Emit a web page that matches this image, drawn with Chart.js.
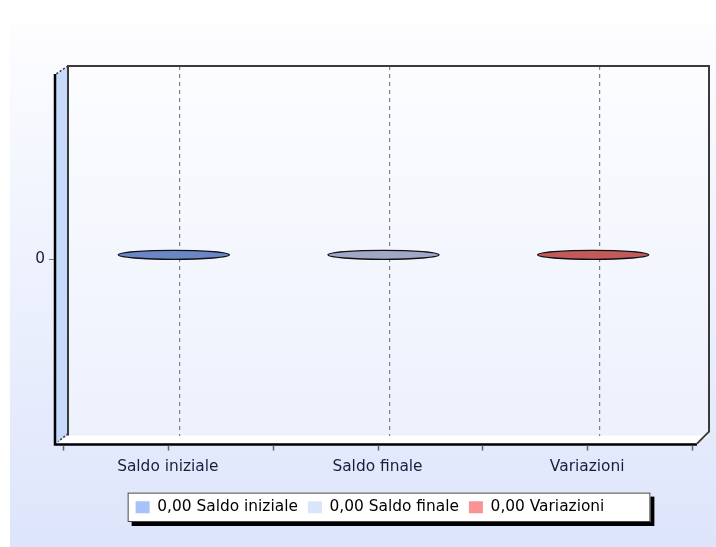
<!DOCTYPE html>
<html>
<head>
<meta charset="utf-8">
<script src="https://cdn.jsdelivr.net/npm/chart.js@4/dist/chart.umd.min.js"></script>
<style>
  html, body { margin: 0; padding: 0; background: #fff; }
  canvas { display: block; }
</style>
</head>
<body>
<canvas id="c" width="716" height="547"></canvas>
<script>
// Account movements summary
const categories = ['Saldo iniziale', 'Saldo finale', 'Variazioni'];
const values = [0, 0, 0];
const yTicks = [0];

const discColors = ['#6a86c6', '#a0a8c6', '#c25a5a'];
const legendColors = ['#a6c2f8', '#dae5fc', '#f89494'];

// Offset between the back wall and the front edge of the pseudo-3D frame
const DEPTH_X = -12, DEPTH_Y = 8;
// The back wall reaches a little beyond the category slots on each side
const WALL_L = 7, WALL_R = 5;
const FONT = { family: 'DejaVu Sans', size: 15.4 };
const TEXT = '#1c1c3c';

function fmt(v) { return v.toFixed(2).replace('.', ','); }

function wallOf(a) {
  return { left: a.left - WALL_L, right: a.right + WALL_R, top: a.top, bottom: a.bottom };
}

const chartFrame = {
  id: 'chartFrame',
  beforeDraw(chart) {
    const { ctx, width, height } = chart;
    const w = wallOf(chart.chartArea);
    ctx.save();
    ctx.fillStyle = '#ffffff';
    ctx.fillRect(0, 0, width, height);
    const g = ctx.createLinearGradient(0, 25, 0, height);
    g.addColorStop(0, '#fdfdff');
    g.addColorStop(1, '#dde5fb');
    ctx.fillStyle = g;
    ctx.fillRect(10, 25, width - 10, height - 25);

    // back wall
    ctx.fillStyle = 'rgba(255,255,255,0.35)';
    ctx.fillRect(w.left, w.top, w.right - w.left, w.bottom - w.top);

    // left wall
    ctx.fillStyle = '#c6dafc';
    ctx.beginPath();
    ctx.moveTo(w.left, w.top);
    ctx.lineTo(w.left + DEPTH_X, w.top + DEPTH_Y);
    ctx.lineTo(w.left + DEPTH_X, w.bottom + DEPTH_Y);
    ctx.lineTo(w.left, w.bottom);
    ctx.closePath();
    ctx.fill();

    // floor
    ctx.fillStyle = '#ffffff';
    ctx.beginPath();
    ctx.moveTo(w.left, w.bottom);
    ctx.lineTo(w.right, w.bottom);
    ctx.lineTo(w.right + DEPTH_X, w.bottom + DEPTH_Y);
    ctx.lineTo(w.left + DEPTH_X, w.bottom + DEPTH_Y);
    ctx.closePath();
    ctx.fill();

    // legend frame with drop shadow
    const lg = chart.legend;
    if (lg && lg.legendHitBoxes && lg.legendHitBoxes.length) {
      const hb = lg.legendHitBoxes;
      const l = Math.min(...hb.map(h => h.left)) - 8;
      const r = Math.max(...hb.map(h => h.left + h.width)) + 46;
      const t = hb[0].top - 7;
      const b = hb[0].top + hb[0].height + 7;
      ctx.fillStyle = '#000';
      ctx.fillRect(l + 4, t + 4, r - l, b - t);
      ctx.fillStyle = '#fff';
      ctx.fillRect(l, t, r - l, b - t);
      ctx.strokeStyle = '#444';
      ctx.lineWidth = 1;
      ctx.strokeRect(l + 0.5, t + 0.5, r - l - 1, b - t - 1);
    }
    ctx.restore();
  },
  beforeDatasetsDraw(chart) {
    const { ctx, chartArea: a, scales } = chart;
    const w = wallOf(a);
    ctx.save();
    ctx.lineCap = 'butt';

    // back wall outline
    ctx.strokeStyle = '#3a3a3a';
    ctx.lineWidth = 2;
    ctx.beginPath();
    ctx.moveTo(w.left, w.bottom);
    ctx.lineTo(w.left, w.top);
    ctx.lineTo(w.right, w.top);
    ctx.lineTo(w.right, w.bottom - 4);
    ctx.lineTo(w.right + DEPTH_X, w.bottom + DEPTH_Y);
    ctx.stroke();

    // receding corner edges
    ctx.lineWidth = 1.5;
    ctx.setLineDash([2, 2]);
    ctx.beginPath();
    ctx.moveTo(w.left, w.top);
    ctx.lineTo(w.left + DEPTH_X, w.top + DEPTH_Y);
    ctx.stroke();
    ctx.beginPath();
    ctx.moveTo(w.left, w.bottom - 2);
    ctx.lineTo(w.left + DEPTH_X + 2, w.bottom + DEPTH_Y - 2);
    ctx.stroke();
    ctx.setLineDash([]);

    // front edges
    ctx.strokeStyle = '#000';
    ctx.lineWidth = 2.5;
    ctx.beginPath();
    ctx.moveTo(w.left + DEPTH_X - 1, w.top + DEPTH_Y);
    ctx.lineTo(w.left + DEPTH_X - 1, w.bottom + DEPTH_Y + 1);
    ctx.lineTo(w.right + DEPTH_X, w.bottom + DEPTH_Y + 1);
    ctx.stroke();

    // category ticks (slot edges and centres) on the front edge
    const xs = scales.x;
    const n = categories.length;
    const half = (xs.getPixelForValue(1) - xs.getPixelForValue(0)) / 2;
    ctx.strokeStyle = '#666';
    ctx.lineWidth = 1.5;
    for (let k = 0; k <= 2 * n; k++) {
      const x = Math.round(xs.getPixelForValue(0) - half + k * half + DEPTH_X) + 0.5;
      ctx.beginPath();
      ctx.moveTo(x, w.bottom + DEPTH_Y + 2);
      ctx.lineTo(x, w.bottom + DEPTH_Y + 7);
      ctx.stroke();
    }

    // value ticks on the front-left edge
    const ys = scales.y;
    yTicks.forEach(v => {
      const y = Math.round(ys.getPixelForValue(v) + DEPTH_Y) + 0.5;
      ctx.strokeStyle = '#777';
      ctx.lineWidth = 1;
      ctx.beginPath();
      ctx.moveTo(w.left + DEPTH_X - 7, y);
      ctx.lineTo(w.left + DEPTH_X - 2, y);
      ctx.stroke();
    });
    ctx.restore();
  },
  afterDatasetsDraw(chart) {
    const { ctx } = chart;
    const meta = chart.getDatasetMeta(0);
    ctx.save();
    meta.data.forEach((el, i) => {
      const { x, y, width } = el.getProps(['x', 'y', 'width'], true);
      const cx = x + DEPTH_X / 2;
      const cy = y + DEPTH_Y / 2;
      ctx.beginPath();
      ctx.ellipse(cx, cy, width / 2, 4.5, 0, 0, Math.PI * 2);
      ctx.fillStyle = discColors[i];
      ctx.fill();
      ctx.strokeStyle = '#111';
      ctx.lineWidth = 1.3;
      ctx.stroke();
    });
    ctx.restore();
  }
};

new Chart(document.getElementById('c'), {
  type: 'bar',
  data: {
    labels: categories,
    datasets: [{
      data: values,
      backgroundColor: discColors,
      borderWidth: 0,
      categoryPercentage: 1,
      barPercentage: 0.53
    }]
  },
  options: {
    responsive: false,
    animation: false,
    devicePixelRatio: 1,
    layout: { padding: { top: 66, right: 12, bottom: 22, left: 36 } },
    plugins: {
      tooltip: { enabled: false },
      legend: {
        position: 'bottom',
        fullSize: true,
        onClick: null,
        labels: {
          font: FONT,
          color: TEXT,
          boxWidth: 14,
          boxHeight: 12,
          padding: 10,
          generateLabels() {
            return categories.map((c, i) => ({
              text: fmt(values[i]) + ' ' + c,
              fillStyle: legendColors[i],
              strokeStyle: '#333',
              lineWidth: 0,
              hidden: false,
              index: i,
              datasetIndex: 0
            }));
          }
        }
      }
    },
    scales: {
      x: {
        offset: true,
        grid: { offset: false, color: '#808080', lineWidth: 1.2, drawTicks: false },
        border: { display: false, dash: [4, 4] },
        ticks: { font: FONT, color: TEXT, labelOffset: DEPTH_X, padding: 22 },
        afterFit(s) { s.height = 54; }
      },
      y: {
        min: -1,
        max: 1,
        grid: { display: false },
        border: { display: false },
        afterBuildTicks(s) { s.ticks = yTicks.map(v => ({ value: v })); },
        ticks: { font: FONT, color: TEXT, labelOffset: DEPTH_Y, padding: 22 },
        afterFit(s) { s.width = 39; }
      }
    }
  },
  plugins: [chartFrame]
});
</script>
</body>
</html>
